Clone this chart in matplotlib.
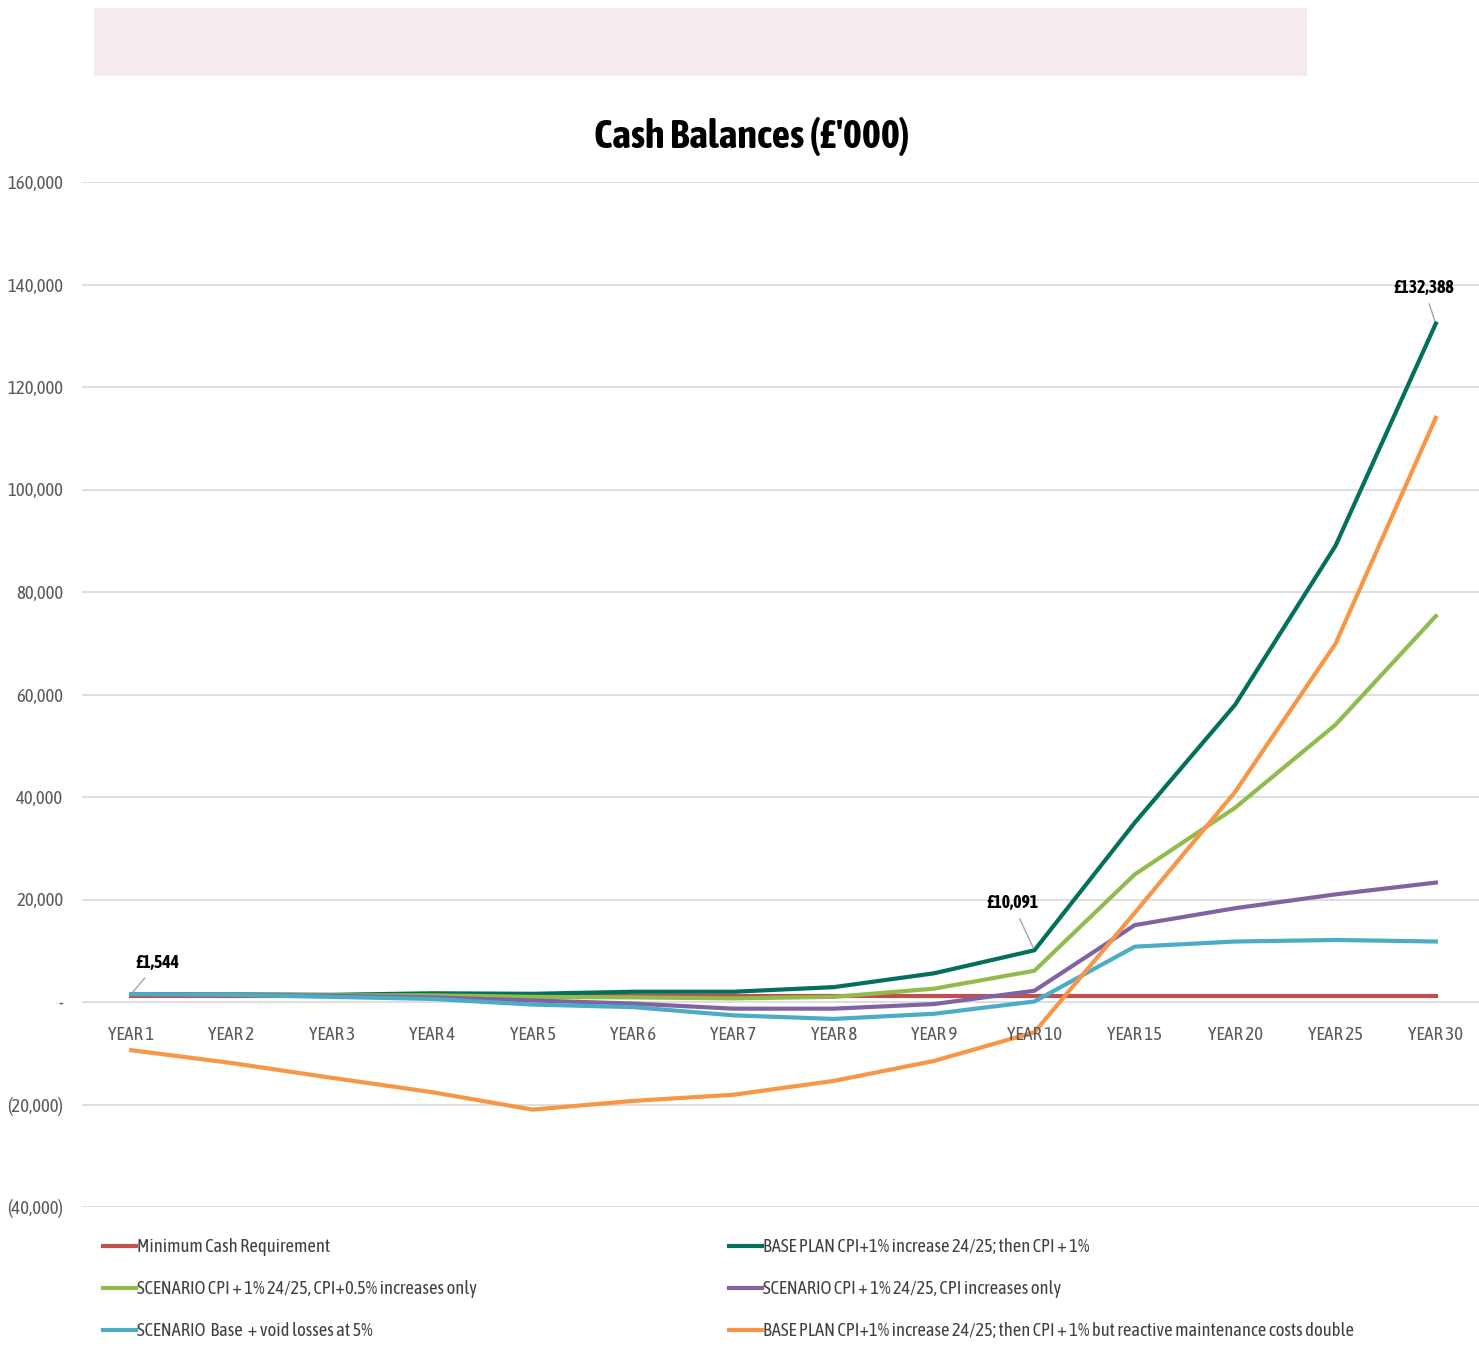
import matplotlib
matplotlib.use("Agg")
import matplotlib.pyplot as plt
from matplotlib.patches import Rectangle
from matplotlib import font_manager as fm

def _w(f):
    w = f.weight
    if isinstance(w, str):
        return {"bold": 700, "semibold": 600, "demibold": 600, "heavy": 800,
                "black": 900, "extra bold": 800}.get(w.lower(), 400)
    return w

# pick a narrow/condensed face if one is installed, preferring one with a bold face
fams = {}
for f in fm.fontManager.ttflist:
    nm = f.name
    narrow = "Narrow" in nm or "Condensed" in nm
    st = str(f.stretch)
    cond = st in ("condensed", "semi-condensed", "extra-condensed") or \
        (isinstance(f.stretch, int) and f.stretch < 500)
    if narrow or cond:
        key = (nm, "normal" if narrow else "condensed")
        fams.setdefault(key, set()).add(_w(f))
FONT, STRETCH, NARROW, HASBOLD = "Liberation Sans", "normal", False, True
if fams:
    ranked = sorted(fams.items(), key=lambda kv: (0 if max(kv[1]) >= 600 else 1,
                                                   0 if kv[0][1] == "normal" else 1, kv[0][0]))
    (FONT, STRETCH), ws = ranked[0]
    NARROW = True
    HASBOLD = max(ws) >= 600

plt.rcParams["font.family"] = [FONT, "DejaVu Sans"]
plt.rcParams["font.stretch"] = STRETCH

SZ = 13.5 if NARROW else 11.5      # tick text
LGSZ = 13.3 if NARROW else 11.0    # legend text
TSZ = 29 if NARROW else 23         # title
LSZ = 12.8 if NARROW else 11       # data labels

categories = ["YEAR 1", "YEAR 2", "YEAR 3", "YEAR 4", "YEAR 5", "YEAR 6", "YEAR 7",
              "YEAR 8", "YEAR 9", "YEAR 10", "YEAR 15", "YEAR 20", "YEAR 25", "YEAR 30"]

min_cash = [1200] * 14
base_plan = [1544, 1500, 1400, 1700, 1600, 2000, 2000, 2900, 5600, 10091, 35000, 58000, 89000, 132388]
cpi_half = [1544, 1450, 1300, 1300, 1000, 900, 700, 1000, 2600, 6100, 24900, 37900, 54100, 75300]
cpi_only = [1544, 1400, 1200, 900, 300, -300, -1300, -1300, -400, 2200, 15000, 18300, 21000, 23300]
void_loss = [1544, 1400, 1000, 600, -500, -1000, -2600, -3300, -2300, 100, 10800, 11800, 12100, 11800]
reactive = [-9400, -11900, -14800, -17600, -21000, -19300, -18100, -15400, -11500, -5900, 17400, 41000, 69900, 114000]

labels_series = [
    "Minimum Cash Requirement",
    "BASE PLAN CPI+1% increase 24/25; then CPI + 1%",
    "SCENARIO CPI + 1% 24/25, CPI+0.5% increases only",
    "SCENARIO CPI + 1% 24/25, CPI increases only",
    "SCENARIO  Base  + void losses at 5%",
    "BASE PLAN CPI+1% increase 24/25; then CPI + 1% but reactive maintenance costs double",
]
colors = ["#c0504d", "#03705c", "#92bb4e", "#8064a2", "#4bacc6", "#f79646"]
series = [min_cash, base_plan, cpi_half, cpi_only, void_loss, reactive]

fig = plt.figure(figsize=(14.79, 13.48), dpi=100)
ax = fig.add_axes([82/1479, 1-1207/1348, 1-82/1479, (1207-182)/1348])

x = list(range(len(categories)))
handles = []
for s, c, lab in zip(series, colors, labels_series):
    h, = ax.plot(x, s, color=c, lw=3.0, label=lab, solid_joinstyle="round")
    handles.append(h)

ax.set_xlim(-0.49, 13.43)
ax.set_ylim(-40000, 160000)
yt = list(range(-40000, 160001, 20000))
ax.set_yticks(yt)

def fmt(v):
    if v == 0:
        return "-"
    if v < 0:
        return "({:,})".format(-v)
    return "{:,}".format(v)

ax.set_yticklabels([fmt(v) for v in yt])
ax.set_xticks(x)
ax.set_xticklabels([])
ax.tick_params(axis="both", length=0, labelsize=SZ, colors="#595959")
ax.tick_params(axis="y", pad=13.5)
for sp in ax.spines.values():
    sp.set_visible(False)
ax.grid(axis="y", color="#d9d9d9", lw=1.2)
ax.set_axisbelow(True)

# category labels just under the zero line
for xi, cat in zip(x, categories):
    ax.text(xi, -6500, cat, ha="center", va="center", fontsize=SZ, color="#595959")

ann_kw = dict(fontsize=LSZ, fontweight="bold", color="black", ha="center", va="center",
              arrowprops=dict(arrowstyle="-", color="#a6a6a6", lw=1, shrinkA=3, shrinkB=2))
ax.annotate("£1,544", xy=(0, base_plan[0]), xytext=(0.26, 7600), **ann_kw)
ax.annotate("£10,091", xy=(9, base_plan[9]), xytext=(8.78, 19300), **ann_kw)
ax.annotate("£132,388", xy=(13, base_plan[13]), xytext=(12.88, 139300), **ann_kw)

fig.text(752/1479, 1-136/1348, "Cash Balances (£'000)", ha="center", va="center",
         fontsize=TSZ, fontweight="bold", color="black")

fig.patches.append(Rectangle((94/1479, 1-75/1348), (1306-94)/1479, 67/1348,
                             transform=fig.transFigure, color="#f4eaf0", zorder=0))

order1 = [0, 2, 4]
order2 = [1, 3, 5]
leg_kw = dict(frameon=False, fontsize=LGSZ, handlelength=1.8, handletextpad=0.05,
              labelspacing=1.3 if NARROW else 1.55, borderaxespad=0, borderpad=0,
              labelcolor="#404040")
fig.legend([handles[i] for i in order1], [labels_series[i] for i in order1],
           loc="upper left", bbox_to_anchor=(103/1479, 1-1238/1348), **leg_kw)
fig.legend([handles[i] for i in order2], [labels_series[i] for i in order2],
           loc="upper left", bbox_to_anchor=(729/1479, 1-1238/1348), **leg_kw)

fig.savefig("out.png", dpi=100, facecolor="white")
